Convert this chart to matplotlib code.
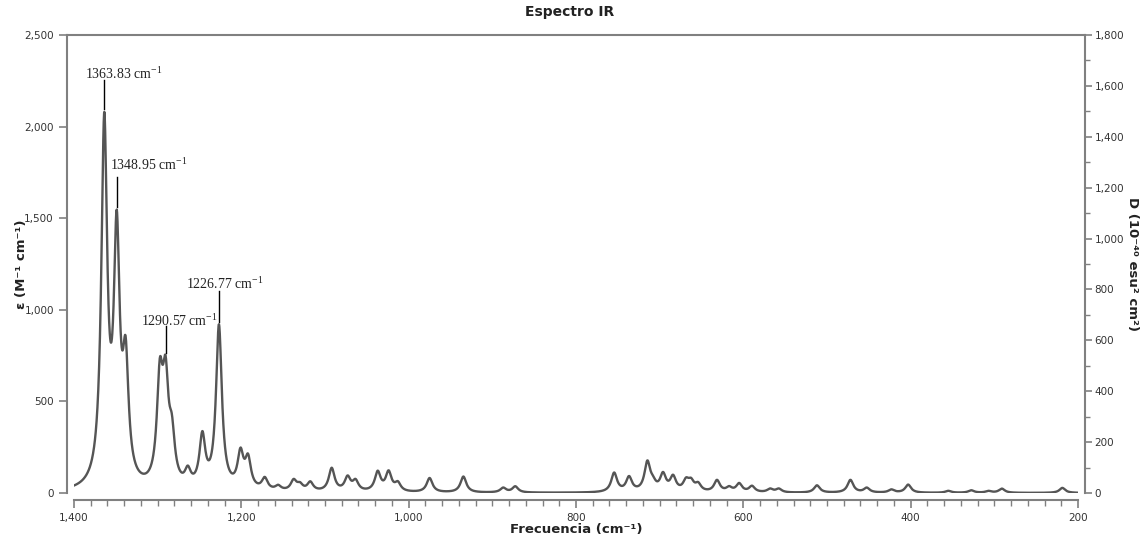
import matplotlib
matplotlib.use('Agg')
import matplotlib.pyplot as plt
import numpy as np
from matplotlib.ticker import MultipleLocator, FuncFormatter

# peak list (cm-1, apparent epsilon at the peak)
peak_freq = [1363.83, 1348.95, 1338.3, 1297.4, 1290.57, 1283.0, 1264.0, 1246.6,
             1226.77, 1201.0, 1192.0, 1172.0, 1156.0, 1137.5, 1130.0, 1117.6,
             1092.0, 1073.0, 1063.5, 1037.0, 1024.0, 1013.0, 975.0, 934.6,
             887.0, 872.6, 754.4, 736.6, 714.7, 708.0, 696.0, 684.0, 668.5,
             662.5, 654.0, 631.5, 617.0, 605.0, 589.7, 568.0, 557.6, 512.0,
             472.0, 452.5, 423.0, 403.0, 355.0, 327.6, 307.0, 291.0, 218.7]
peak_eps = [2080, 1547, 855, 738, 751, 430, 150, 338,
            921, 248, 215, 88, 45, 77, 60, 64,
            138, 96, 77, 122, 124, 65, 82, 90,
            30, 37, 112, 93, 178, 95, 115, 100, 85,
            83, 60, 72, 38, 55, 40, 25, 25, 42,
            72, 30, 20, 46, 12, 15, 12, 24, 28]

labels = ['1363.83', '1348.95', '1290.57', '1226.77']
label_freq = [1363.83, 1348.95, 1290.57, 1226.77]
label_peak = [2080, 1547, 751, 921]
label_text_x = [1387, 1357, 1320, 1266.7]
label_text_y = [2290, 1790, 943, 1145]
label_top = [2255, 1724, 910, 1101]

freq_min, freq_max = 200, 1400
eps_max = 2500
d_max = 1800
hwhm = 4.2


def lorentz(x, x0):
    return hwhm ** 2 / ((x - x0) ** 2 + hwhm ** 2)


def spectrum():
    f0 = np.array(peak_freq)
    target = np.array(peak_eps, dtype=float)
    A = lorentz(f0[:, None], f0[None, :])
    h = target.copy()
    for _ in range(300):   # ajustar alturas para que el pico aparente coincida
        h = h * target / (A @ h)
    x = np.arange(freq_max, freq_min - 0.1, -0.25)
    y = lorentz(x[:, None], f0[None, :]) @ h
    return x, y


def main():
    x, y = spectrum()

    fig = plt.figure(figsize=(11.4, 5.39), dpi=100)
    ax = fig.add_axes([74 / 1140, 1 - 493 / 539, 1004 / 1140, 458 / 539])
    gray = '#808080'
    txt = '#333333'

    ax.plot(x, y, color='#555555', linewidth=1.7)
    ax.set_xlim(freq_max, freq_min)
    ax.set_ylim(0, eps_max)

    for s in ['left', 'bottom', 'right']:
        ax.spines[s].set_position(('outward', 5))
    for s in ax.spines.values():
        s.set_color(gray)
        s.set_linewidth(1.5)
    ax.spines['right'].set_visible(False)
    ax.spines['top'].set_bounds(freq_max + 8.5, freq_min - 8.5)

    fmt = FuncFormatter(lambda v, p: '{:,.0f}'.format(v))
    ax.xaxis.set_major_locator(MultipleLocator(200))
    ax.xaxis.set_minor_locator(MultipleLocator(20))
    ax.xaxis.set_major_formatter(fmt)
    ax.yaxis.set_major_locator(MultipleLocator(500))
    ax.yaxis.set_major_formatter(fmt)
    ax.tick_params(axis='both', which='major', length=6, width=1.2, color=gray,
                   labelsize=7.5, labelcolor=txt)
    ax.tick_params(axis='x', which='minor', length=4, width=1.0, color=gray)

    ax2 = ax.twinx()
    ax2.set_ylim(0, d_max)
    ax2.spines['right'].set_position(('outward', 5))
    for s in ax2.spines.values():
        s.set_visible(False)
    ax2.spines['right'].set_visible(True)
    ax2.spines['right'].set_color(gray)
    ax2.spines['right'].set_linewidth(1.5)
    ax2.yaxis.set_major_locator(MultipleLocator(200))
    ax2.yaxis.set_minor_locator(MultipleLocator(100))
    ax2.yaxis.set_major_formatter(fmt)
    ax2.tick_params(axis='y', which='major', length=5, width=1.2, color=gray,
                    labelsize=7.5, labelcolor=txt, pad=2)
    ax2.tick_params(axis='y', which='minor', length=3.5, width=1.0, color=gray)

    # etiquetas de picos
    for lab, f, pk, tx, ty, top in zip(labels, label_freq, label_peak,
                                       label_text_x, label_text_y, label_top):
        ax.plot([f, f], [pk + 15, top], color='black', linewidth=1.0)
        ax.text(tx, ty, lab + r' cm$^{\mathregular{-1}}$', family='Liberation Serif',
                fontsize=10, color='#222222', ha='left', va='center')

    fig.text(570 / 1140, 1 - 12 / 539, 'Espectro IR', ha='center', va='center',
             fontsize=10, fontweight='bold', color='#222222')
    fig.text(576 / 1140, 1 - 530 / 539, 'Frecuencia (cm⁻¹)',
             ha='center', va='center', fontsize=9.5, fontweight='bold', color='#222222')
    fig.text(22 / 1140, 1 - 264 / 539, 'ε (M⁻¹ cm⁻¹)',
             ha='center', va='center', rotation=90, fontsize=9.5, fontweight='bold',
             color='#222222')
    fig.text(1132 / 1140, 1 - 264 / 539, 'D (10⁻⁴⁰ esu² cm²)',
             ha='center', va='center', rotation=270, fontsize=9.5, fontweight='bold',
             color='#222222')

    fig.savefig('out.png', dpi=100)


if __name__ == '__main__':
    main()
